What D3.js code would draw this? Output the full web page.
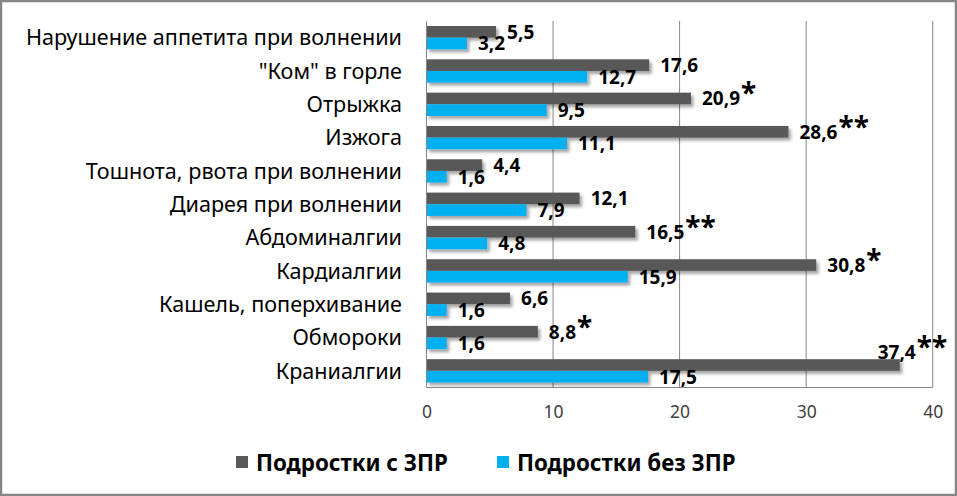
<!DOCTYPE html>
<html><head><meta charset="utf-8">
<script src="https://cdn.jsdelivr.net/npm/d3@7"></script>
<style>body{margin:0;background:#fff}svg{display:block}text{font-family:"Noto Sans",sans-serif}</style>
</head><body>
<svg id="c" width="957" height="496"></svg>
<script>
const categories = ["Нарушение аппетита при волнении","\"Ком\" в горле","Отрыжка","Изжога","Тошнота, рвота при волнении","Диарея при волнении","Абдоминалгии","Кардиалгии","Кашель, поперхивание","Обмороки","Краниалгии"];
const seriesNames = ["Подростки с ЗПР","Подростки без ЗПР"];
const withZPR = [5.5,17.6,20.9,28.6,4.4,12.1,16.5,30.8,6.6,8.8,37.4];
const withoutZPR = [3.2,12.7,9.5,11.1,1.6,7.9,4.8,15.9,1.6,1.6,17.5];
const significance = ["","","*","**","","","**","*","","*","**"];
const xTicks = [0,10,20,30,40];
const colors = ["#595959","#00B0F0"];

const W = 957, H = 496;
const svg = d3.select("#c");
const pLeft = 426.5, pRight = 932.7, pTop = 21, pBottom = 387.5;

const defs = svg.append("defs");
const f = defs.append("filter").attr("id","sh").attr("x","-10%").attr("y","-50%").attr("width","130%").attr("height","250%");
f.append("feDropShadow").attr("dx",2.5).attr("dy",3).attr("stdDeviation",1.6).attr("flood-color","#000").attr("flood-opacity",0.35);

// outer border
svg.append("rect").attr("x",1).attr("y",1).attr("width",W-2).attr("height",H-2)
  .attr("fill","#fff").attr("stroke","#868686").attr("stroke-width",2.5);

const x = d3.scaleLinear().domain([0,40]).range([pLeft,pRight]);
const y = d3.scaleBand().domain(categories).range([pTop,pBottom]).paddingInner(0.3).paddingOuter(0.15);
const sub = d3.scaleBand().domain([0,1]).range([0,y.bandwidth()]);

// gridlines
svg.append("g").selectAll("line").data(xTicks.slice(1)).join("line")
  .attr("x1",d=>x(d)).attr("x2",d=>x(d)).attr("y1",pTop).attr("y2",pBottom)
  .attr("stroke","#868686").attr("stroke-width",1);

// x axis tick labels
const xa = svg.append("g").attr("transform",`translate(0,${pBottom})`)
  .call(d3.axisBottom(x).tickValues(xTicks).tickSize(0).tickPadding(18));
xa.select(".domain").remove();
xa.selectAll("text").attr("font-size",17.5).attr("fill","#404040").attr("font-family","Noto Sans");

// category labels
svg.append("g").selectAll("text").data(categories).join("text")
  .attr("x",402).attr("y",d=>y(d)+y.bandwidth()/2).attr("dy","0.36em")
  .attr("text-anchor","end").attr("font-size",21.6).attr("fill","#000").text(d=>d);

const series = [withZPR, withoutZPR];
const fmt = d3.formatLocale({decimal:",",thousands:" ",grouping:[3],currency:["",""]}).format(".1f");

series.forEach((vals,si)=>{
  svg.append("g").attr("filter","url(#sh)").selectAll("rect").data(vals).join("rect")
    .attr("x",x(0)).attr("y",(d,i)=>y(categories[i])+sub(si))
    .attr("width",d=>x(d)-x(0)).attr("height",sub.bandwidth())
    .attr("fill",colors[si]);
});

// axis lines
svg.append("line").attr("x1",pLeft).attr("x2",pLeft).attr("y1",pTop).attr("y2",pBottom).attr("stroke","#868686");
svg.append("line").attr("x1",pLeft).attr("x2",pRight).attr("y1",pBottom).attr("y2",pBottom).attr("stroke","#868686");

// value labels
series.forEach((vals,si)=>{
  const g = svg.append("g");
  vals.forEach((v,i)=>{
    let lx = x(v)+11;
    let ly = y(categories[i])+sub(si)+sub.bandwidth()/2+7;
    if (lx + 40 > pRight) { lx = pRight - 55; ly -= 13; }
    const t = g.append("text").attr("x",lx).attr("y",ly).attr("font-size",19).attr("font-weight","bold").attr("fill","#000");
    t.append("tspan").text(fmt(v));
    if (si===0 && significance[i]) {
      t.append("tspan").attr("font-size",28).attr("dy",-2).attr("dx",1).text(significance[i]);
    }
  });
});

// legend
const lg = svg.append("g");
const legendX = [236, 497];
seriesNames.forEach((n,i)=>{
  lg.append("rect").attr("x",legendX[i]).attr("y",456).attr("width",12).attr("height",12).attr("fill",colors[i]);
  lg.append("text").attr("x",legendX[i]+20).attr("y",470.5).attr("font-size",22.3).attr("font-weight","bold").attr("fill","#000").text(n);
});
</script>
</body></html>
